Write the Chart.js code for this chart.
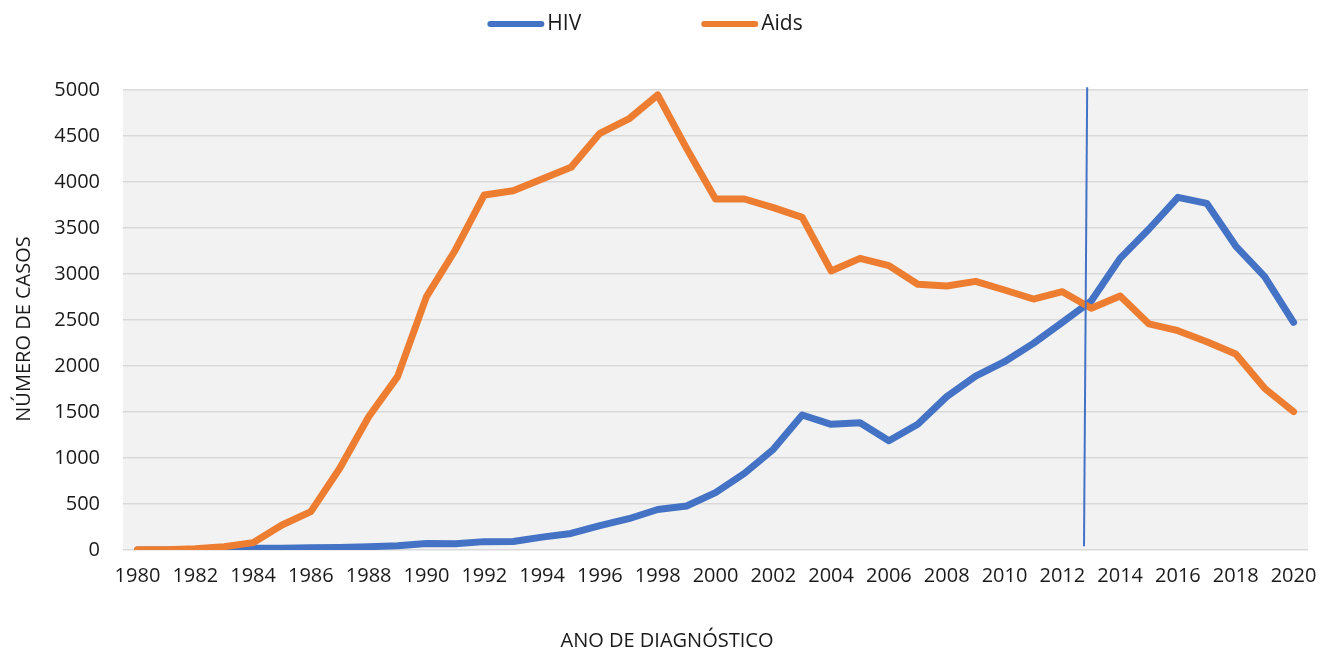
<!DOCTYPE html>
<html>
<head>
<meta charset="utf-8">
<script src="https://cdn.jsdelivr.net/npm/chart.js@4.4.0/dist/chart.umd.min.js"></script>
<style>
  html, body { margin: 0; padding: 0; background: #fff; }
  #wrap { width: 1321px; height: 653px; position: relative; }
</style>
</head>
<body>
<div id="wrap"><canvas id="casosChart"></canvas></div>
<script>
// anos de diagnóstico
var years = [];
for (var y = 1980; y <= 2020; y++) years.push(String(y));

// casos por ano
var hivCases = [0, 0, 2, 4, 18, 20, 25, 28, 36, 46,
    70, 67, 91, 93, 140, 180, 265, 340, 440, 478,
    623, 833, 1094, 1467, 1366, 1384, 1188, 1366, 1667, 1890,
    2047, 2246, 2475, 2707, 3170, 3489, 3833, 3768, 3304, 2971,
    2475];
var aidsCases = [2, 3, 14, 36, 80, 272, 417, 888, 1449, 1884,
    2754, 3261, 3859, 3905, 4033, 4159, 4529, 4685, 4946, 4366,
    3815, 3815, 3721, 3616, 3033, 3170, 3091, 2888, 2870, 2920,
    2826, 2728, 2808, 2627, 2761, 2457, 2384, 2264, 2130, 1757,
    1504];
var yTicks = [0, 500, 1000, 1500, 2000, 2500, 3000, 3500, 4000, 4500, 5000];

var xTitle = 'ANO DE DIAGNÓSTICO';
var yTitle = 'NÚMERO DE CASOS';

// linha vertical desenhada à mão no original (posição em índice de categoria)
var markerBottom = { x: 32.75, y: 40 };
var markerTop = { x: 32.86, y: 5030 };

var fontFamily = "'Open Sans', sans-serif";
var textColor = '#1a1a1a';

var plotBg = {
    id: 'plotBg',
    beforeDraw: function (chart) {
        var a = chart.chartArea, c = chart.ctx;
        c.save();
        c.fillStyle = '#F2F2F2';
        c.fillRect(a.left, a.top, a.right - a.left, a.bottom - a.top);
        c.restore();
    }
};

var marker = {
    id: 'marker',
    afterDatasetsDraw: function (chart) {
        var xs = chart.scales.x, ys = chart.scales.y, c = chart.ctx;
        c.save();
        c.strokeStyle = '#4472C4';
        c.lineWidth = 2;
        c.beginPath();
        c.moveTo(xs.getPixelForValue(markerBottom.x), ys.getPixelForValue(markerBottom.y));
        c.lineTo(xs.getPixelForValue(markerTop.x), ys.getPixelForValue(markerTop.y));
        c.stroke();
        c.restore();
    }
};

// legenda e títulos dos eixos, posicionados como no Excel (centrados na figura)
var decorations = {
    id: 'decorations',
    afterDraw: function (chart) {
        var c = chart.ctx;
        var sets = chart.data.datasets;
        var lineLen = 57, gap = 3, spacing = 120;
        c.save();
        c.font = '21px ' + fontFamily;
        c.textBaseline = 'middle';
        var widths = sets.map(function (d) { return lineLen + gap + c.measureText(d.label).width; });
        var total = widths.reduce(function (s, w) { return s + w; }, 0) + spacing * (sets.length - 1);
        var x = 645 - total / 2, yc = 24;
        sets.forEach(function (d, i) {
            c.strokeStyle = d.borderColor;
            c.lineWidth = 6;
            c.lineCap = 'round';
            c.beginPath();
            c.moveTo(x + 3, yc);
            c.lineTo(x + lineLen - 3, yc);
            c.stroke();
            c.fillStyle = textColor;
            c.fillText(d.label, x + lineLen + gap, yc);
            x += widths[i] + spacing;
        });

        c.font = '20px ' + fontFamily;
        c.textAlign = 'center';
        c.fillText(xTitle, 667, 641);
        c.translate(24, 329);
        c.rotate(-Math.PI / 2);
        c.fillText(yTitle, 0, 0);
        c.restore();
    }
};

var ctx = document.getElementById('casosChart').getContext('2d');
var casosChart = new Chart(ctx, {
    type: 'line',
    data: {
        labels: years,
        datasets: [{
            label: 'HIV',
            data: hivCases,
            borderColor: '#4472C4',
            backgroundColor: '#4472C4',
            borderWidth: 7,
            pointRadius: 0,
            borderCapStyle: 'round',
            borderJoinStyle: 'round',
            order: 2
        }, {
            label: 'Aids',
            data: aidsCases,
            borderColor: '#ED7D31',
            backgroundColor: '#ED7D31',
            borderWidth: 7,
            pointRadius: 0,
            borderCapStyle: 'round',
            borderJoinStyle: 'round',
            order: 1
        }]
    },
    options: {
        responsive: true,
        maintainAspectRatio: false,
        animation: false,
        layout: { padding: { top: 90, right: 13, bottom: 0, left: 0 } },
        scales: {
            x: {
                offset: true,
                grid: { display: false, drawTicks: false },
                border: { display: false },
                ticks: {
                    autoSkip: false,
                    maxRotation: 0,
                    padding: 14,
                    color: textColor,
                    font: { family: fontFamily, size: 20 },
                    callback: function (val, i) { return i % 2 === 0 ? years[i] : null; }
                },
                afterFit: function (s) {
                    s.height = 103;
                    s.paddingLeft = 0;
                    s.paddingRight = 0;
                }
            },
            y: {
                min: 0,
                max: 5000,
                afterBuildTicks: function (s) { s.ticks = yTicks.map(function (v) { return { value: v }; }); },
                grid: { color: '#D9D9D9', lineWidth: 1.5, drawTicks: false },
                border: { display: false },
                ticks: {
                    padding: 23,
                    color: textColor,
                    font: { family: fontFamily, size: 20 },
                    callback: function (v) { return String(v); }
                },
                afterFit: function (s) { s.width = 123; }
            }
        },
        plugins: {
            legend: { display: false },
            tooltip: { enabled: false }
        }
    },
    plugins: [plotBg, marker, decorations]
});
</script>
</body>
</html>
